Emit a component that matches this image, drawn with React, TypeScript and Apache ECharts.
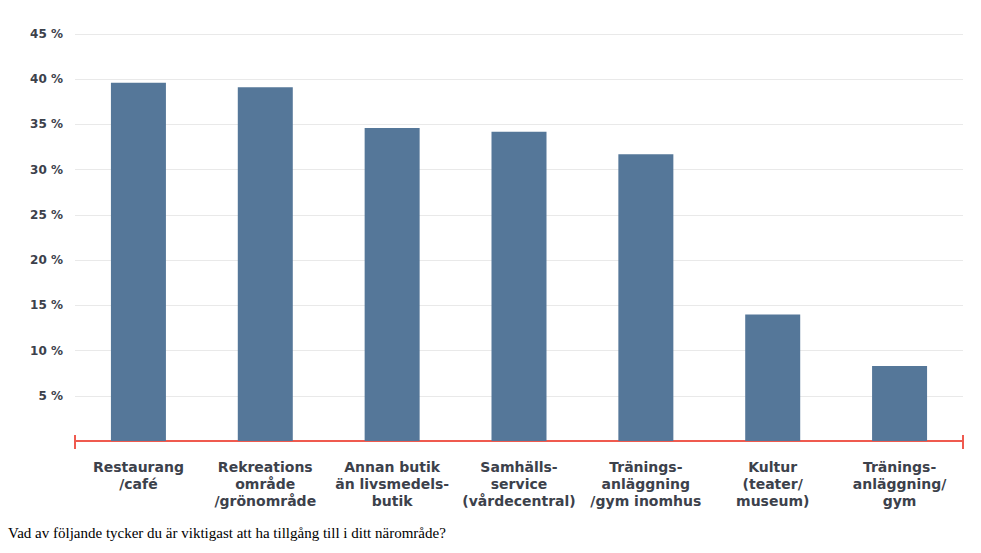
import React, { useEffect, useRef } from "react";
import * as echarts from "echarts";

const categories = [
  "Restaurang\n/café",
  "Rekreations\nområde\n/grönområde",
  "Annan butik\nän livsmedels-\nbutik",
  "Samhälls-\nservice\n(vårdecentral)",
  "Tränings-\nanläggning\n/gym inomhus",
  "Kultur\n(teater/\nmuseum)",
  "Tränings-\nanläggning/\ngym",
];
const values = [39.6, 39.1, 34.6, 34.2, 31.7, 14.0, 8.3];
const caption = "Vad av följande tycker du är viktigast att ha tillgång till i ditt närområde?";

export default function App() {
  const ref = useRef<HTMLDivElement>(null);
  useEffect(() => {
    if (!ref.current) return;
    const chart = echarts.init(ref.current, null, { renderer: "svg" });
    const gridLeft = 75;
    const gridRight = 18;
    const axisY = 441;
    chart.setOption({
      animation: false,
      backgroundColor: "#ffffff",
      grid: { left: gridLeft, right: gridRight, top: 34, bottom: 553 - axisY, containLabel: false },
      xAxis: {
        type: "category",
        data: categories,
        axisLine: { show: true, lineStyle: { color: "#ef5a4f", width: 2 } },
        axisTick: { show: false },
        axisLabel: {
          interval: 0,
          margin: 17,
          color: "#3c414b",
          fontFamily: "DejaVu Sans",
          fontWeight: "bold",
          fontSize: 14,
          lineHeight: 17,
        },
      },
      yAxis: {
        type: "value",
        min: 0,
        max: 45,
        interval: 5,
        axisLine: { show: false },
        axisTick: { show: false },
        splitLine: { show: true, lineStyle: { color: "#e9e9e9", width: 1 } },
        axisLabel: {
          margin: 12,
          color: "#3c414b",
          fontFamily: "DejaVu Sans",
          fontWeight: "bold",
          fontSize: 12,
          formatter: (v: number) => (v === 0 ? "" : v + " %"),
        },
      },
      series: [
        {
          type: "bar",
          data: values,
          barWidth: 55,
          itemStyle: { color: "#557799" },
        },
      ],
      graphic: [
        {
          type: "line",
          shape: { x1: gridLeft, y1: axisY - 6, x2: gridLeft, y2: axisY + 8 },
          style: { stroke: "#ef5a4f", lineWidth: 2 },
        },
        {
          type: "line",
          shape: { x1: 981 - gridRight, y1: axisY - 6, x2: 981 - gridRight, y2: axisY + 8 },
          style: { stroke: "#ef5a4f", lineWidth: 2 },
        },
        {
          type: "text",
          left: 8,
          top: 525,
          style: {
            text: caption,
            fill: "#000000",
            font: "15px 'Liberation Serif', serif",
          },
        },
      ],
    });
    return () => chart.dispose();
  }, []);
  return (
    <div
      ref={ref}
      style={{ position: "fixed", left: 0, top: 0, width: 981, height: 553 }}
    />
  );
}
